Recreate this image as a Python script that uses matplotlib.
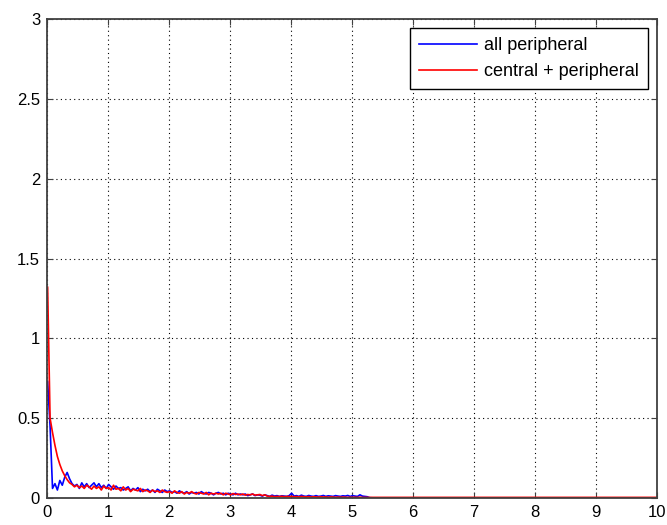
import matplotlib
matplotlib.use('Agg')
import matplotlib.pyplot as plt
import numpy as np

# sample positions (s) for the noisy part of both traces
x_step = 0.04
n_pts = 133

all_periph = [
    0.73, 0.45, 0.06, 0.09, 0.05, 0.11, 0.08, 0.13, 0.16, 0.12,
    0.09, 0.075, 0.085, 0.06, 0.095, 0.07, 0.09, 0.065, 0.08, 0.095,
    0.07, 0.09, 0.065, 0.08, 0.06, 0.085, 0.07, 0.055, 0.075, 0.06,
    0.065, 0.05, 0.06, 0.07, 0.045, 0.06, 0.05, 0.065, 0.04, 0.055,
    0.045, 0.055, 0.04, 0.05, 0.035, 0.055, 0.045, 0.035, 0.05, 0.04,
    0.045, 0.035, 0.04, 0.03, 0.045, 0.035, 0.03, 0.04, 0.025, 0.035,
    0.03, 0.035, 0.025, 0.04, 0.03, 0.025, 0.035, 0.03, 0.02, 0.03,
    0.035, 0.025, 0.03, 0.02, 0.03, 0.025, 0.02, 0.03, 0.02, 0.025,
    0.02, 0.025, 0.015, 0.02, 0.025, 0.015, 0.02, 0.018, 0.012, 0.02,
    0.015, 0.01, 0.018, 0.012, 0.015, 0.01, 0.014, 0.012, 0.01, 0.015,
    0.03, 0.012, 0.015, 0.01, 0.018, 0.012, 0.01, 0.016, 0.012, 0.01,
    0.015, 0.01, 0.012, 0.016, 0.01, 0.014, 0.012, 0.01, 0.015, 0.012,
    0.01, 0.014, 0.012, 0.016, 0.01, 0.015, 0.012, 0.01, 0.02, 0.012,
    0.01, 0.008, 0.002,
]

central_periph = [
    1.32, 0.50, 0.41, 0.33, 0.26, 0.21, 0.17, 0.14, 0.115, 0.095,
    0.085, 0.07, 0.08, 0.065, 0.075, 0.06, 0.08, 0.07, 0.055, 0.075,
    0.06, 0.07, 0.05, 0.075, 0.06, 0.065, 0.05, 0.08, 0.055, 0.06,
    0.045, 0.07, 0.05, 0.06, 0.04, 0.055, 0.05, 0.045, 0.06, 0.04,
    0.05, 0.045, 0.035, 0.05, 0.04, 0.045, 0.035, 0.05, 0.04, 0.035,
    0.04, 0.03, 0.045, 0.035, 0.03, 0.04, 0.025, 0.035, 0.03, 0.04,
    0.03, 0.025, 0.035, 0.03, 0.025, 0.035, 0.02, 0.03, 0.025, 0.03,
    0.025, 0.03, 0.02, 0.03, 0.025, 0.02, 0.028, 0.022, 0.025, 0.02,
    0.025, 0.018, 0.022, 0.02, 0.025, 0.018, 0.02, 0.022, 0.015, 0.02,
    0.012, 0.01, 0.012, 0.008, 0.01, 0.009, 0.011, 0.008, 0.01, 0.009,
    0.01, 0.008, 0.009, 0.007, 0.01, 0.008, 0.007, 0.009, 0.006, 0.008,
    0.007, 0.006, 0.008, 0.006, 0.007, 0.005, 0.007, 0.006, 0.005, 0.006,
    0.005, 0.006, 0.005, 0.004, 0.005, 0.004, 0.005, 0.004, 0.005, 0.004,
    0.004, 0.004, 0.004,
]

# flat tail out to the end of the axis
tail_x = [5.4, 10.0]
tail_blue = [0.0, 0.0]
tail_red = [0.004, 0.004]

x = list(np.round(np.arange(n_pts) * x_step + 0.01, 2)) + tail_x
y_blue = all_periph + tail_blue
y_red = central_periph + tail_red

plt.rcParams['font.family'] = ['Liberation Sans', 'DejaVu Sans']

fig = plt.figure(figsize=(6.67, 5.25), dpi=100)
ax = fig.add_axes([0.0705, 0.0514, 0.9145, 0.9124])

ax.plot(x, y_blue, color='#0000ff', lw=1.2, label='all peripheral')
ax.plot(x, y_red, color='#ff0000', lw=1.2, label='central + peripheral')

ax.set_xlim(0, 10)
ax.set_ylim(0, 3)
ax.set_xticks(range(0, 11))
ax.set_yticks([0, 0.5, 1, 1.5, 2, 2.5, 3])
ax.set_yticklabels(['0', '0.5', '1', '1.5', '2', '2.5', '3'])

ax.grid(True, color='k', linestyle=(0, (1, 3)), lw=0.8)
ax.tick_params(direction='in', length=4, top=True, right=True,
               labelsize=12, color='#404040', pad=5)
for s in ax.spines.values():
    s.set_color('#404040')
    s.set_linewidth(1.3)

leg = ax.legend(loc='upper right', fontsize=13, fancybox=False, framealpha=1,
                edgecolor='k', borderaxespad=0.5, handlelength=3.2,
                handletextpad=0.4, borderpad=0.5, labelspacing=0.5)
leg.get_frame().set_linewidth(1.0)

fig.savefig('out.png', dpi=100)
